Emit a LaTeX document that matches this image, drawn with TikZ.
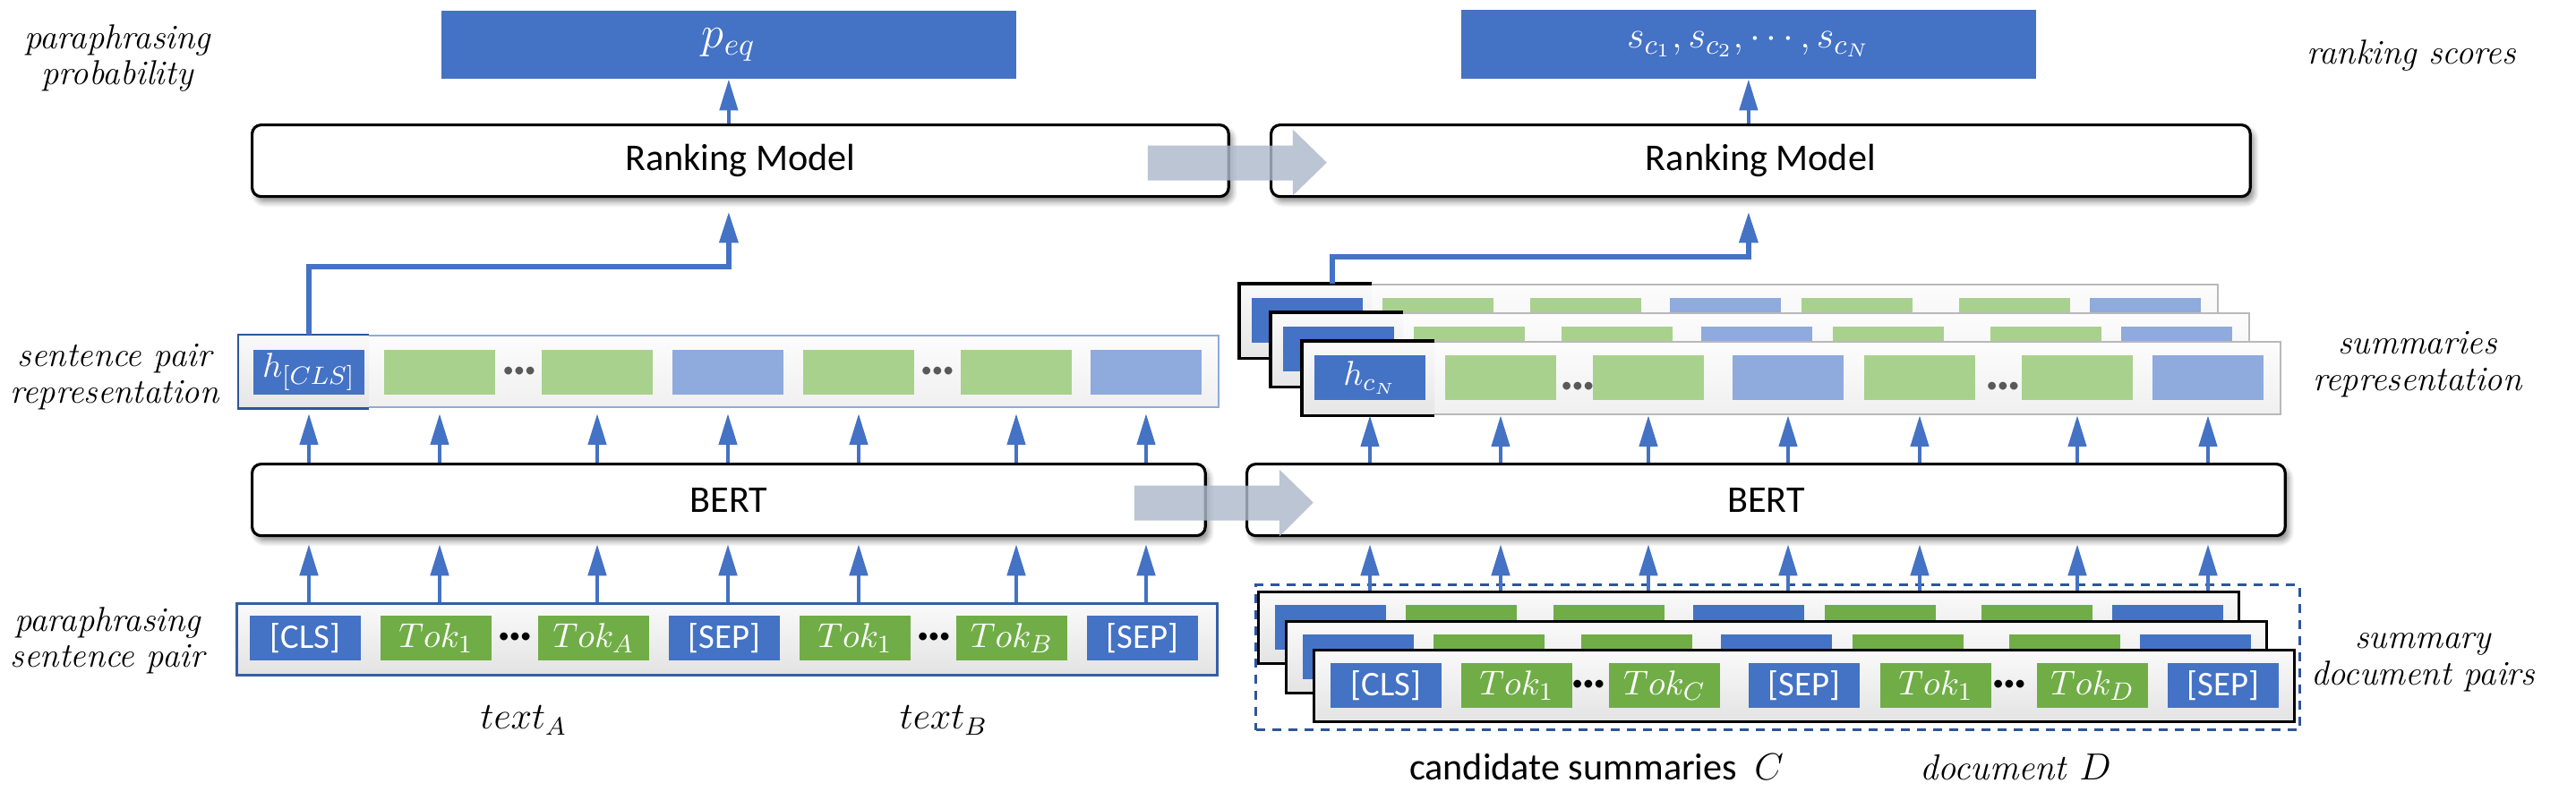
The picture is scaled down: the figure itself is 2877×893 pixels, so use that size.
\documentclass[tikz,border=0pt]{standalone}
\usepackage{fontspec}
\newfontfamily\calibri{Carlito}
\usetikzlibrary{arrows.meta, shadows.blur, calc}
\definecolor{tokblue}{HTML}{4472C4}
\definecolor{tokgreen}{HTML}{70AD47}
\definecolor{repgreen}{HTML}{A9D18E}
\definecolor{repblue}{HTML}{8FAADC}
\definecolor{darkblue}{HTML}{2F5597}
\definecolor{flowgray}{HTML}{ADB9CA}

\begin{document}
\begin{tikzpicture}[x=0.01cm, y=-0.01cm,
    modelbox/.style={draw=black, line width=0.9pt, rounded corners=0.1cm, fill=white, anchor=north west, inner sep=0pt,
      blur shadow={shadow xshift=0.04cm, shadow yshift=-0.06cm, shadow opacity=45, shadow blur steps=6},
      font=\calibri\fontsize{12}{14}\selectfont, minimum height=0.8cm},
    outbox/.style={fill=tokblue, text=white, anchor=north west, inner sep=0pt, font=\fontsize{14}{16}\selectfont},
    seqbox/.style={anchor=north west, inner sep=0pt, minimum height=0.8cm},
    tokcell/.style={minimum width=1.24cm, minimum height=0.5cm, inner sep=0pt, text=white, font=\calibri\fontsize{11}{13}\selectfont},
    celltext/.style={text=white, inner sep=0pt, font=\calibri\fontsize{11}{13}\selectfont},
    tokdots/.style={inner sep=0pt, font=\calibri\fontsize{7}{7}\selectfont},
    uparrow/.style={draw=tokblue, line width=1.3pt, -{Triangle[length=0.35cm, width=0.2cm]}},
    clslink/.style={uparrow, line width=1.8pt, shorten >=0.15cm},
    sidelabel/.style={font=\itshape\fontsize{11}{11.5}\selectfont, align=center, inner sep=0pt},
    flowarrow/.style={fill=flowgray, fill opacity=0.82}
  ]
  \useasboundingbox (0,0) rectangle (2877,893);

  \node[outbox, minimum width=6.42cm, minimum height=0.76cm] (outL) at (492,11) {$p_{eq}$};
  \node[outbox, minimum width=6.42cm, minimum height=0.77cm, font=\fontsize{13}{15}\selectfont] (outR) at (1631,10) {$s_{c_1},s_{c_2},\cdots,s_{c_N}$};

  \node[modelbox, minimum width=10.90cm] (rankL) at (280,138) {Ranking Model};
  \node[modelbox, minimum width=10.93cm] (rankR) at (1418,138) {Ranking Model};
  \node[modelbox, minimum width=10.64cm] (bertL) at (280,517) {BERT};
  \node[modelbox, minimum width=11.59cm] (bertR) at (1391,517) {BERT};

  % sentence pair representation
  \node[seqbox, draw=repblue, line width=0.6pt, top color=gray!2, bottom color=gray!12, minimum width=10.93cm] (repL) at (266,374) {};
  \path[top color=gray!4, bottom color=gray!20] (repL.north west) rectangle ($(repL.south west)+(146,0)$);
  \draw[darkblue, line width=0.8pt] ($(repL.north west)+(146,0)$) -- (repL.north west) -- (repL.south west) -- ($(repL.south west)+(146,0)$);
  \foreach \x/\c/\t [count=\i] in {283/tokblue/{$h_{[CLS]}$},429/repgreen/{},605/repgreen/{},751/repblue/{},897/repgreen/{},1073/repgreen/{},1218/repblue/{}}
    \node[tokcell, fill=\c] (rL\i) at ({\x+62},416) {\t};
  \node[tokdots, text=gray!70!black] at (580,416) {\textbullet\textbullet\textbullet};
  \node[tokdots, text=gray!70!black] at (1047,416) {\textbullet\textbullet\textbullet};

  % paraphrasing sentence pair
  \node[seqbox, draw=darkblue!70!tokblue, line width=0.9pt, top color=gray!4, bottom color=gray!22, minimum width=10.94cm] (inL) at (263,673) {};
  \foreach \x/\c/\t [count=\i] in {279/tokblue/[CLS],425/tokgreen/$Tok_1$,601/tokgreen/$Tok_A$,747/tokblue/[SEP],893/tokgreen/$Tok_1$,1068/tokgreen/$Tok_B$,1214/tokblue/[SEP]}
    \node[tokcell, fill=\c] (iL\i) at ({\x+62},713) {\t};
  \node[tokdots] at (575,713) {\textbullet\textbullet\textbullet};
  \node[tokdots] at (1043,713) {\textbullet\textbullet\textbullet};

  % summaries representation
  \foreach \s/\px/\py in {1/1384/317,2/1419/349,3/1454/381}{
    \node[seqbox, draw=gray!55, line width=0.6pt, top color=gray!2, bottom color=gray!12, minimum width=10.91cm, minimum height=0.81cm] (rs\s) at (\px,\py) {};
    \path[top color=gray!4, bottom color=gray!20] (rs\s.north west) rectangle ($(rs\s.south west)+(148,0)$);
    \draw[line width=0.9pt] ($(rs\s.north west)+(148,0)$) -- (rs\s.north west) -- (rs\s.south west) -- ($(rs\s.south west)+(148,0)$);
    \foreach \x/\c [count=\i] in {14/tokblue,160/repgreen,325/repgreen,481/repblue,628/repgreen,804/repgreen,950/repblue}
      \node[tokcell, fill=\c] (rc\s\i) at ($(rs\s.north west)+({\x+62},41)$) {};
  }
  \node[celltext] at (rc31) {$h_{c_N}$};
  \node[tokdots, text=gray!70!black] at ($(rs3.north west)+(308,52)$) {\textbullet\textbullet\textbullet};
  \node[tokdots, text=gray!70!black] at ($(rs3.north west)+(783,52)$) {\textbullet\textbullet\textbullet};

  % summary document pairs
  \foreach \s/\px/\py in {1/1404/660,2/1435/693,3/1466/725}{
    \node[seqbox, draw=black, line width=0.9pt, top color=gray!4, bottom color=gray!22, minimum width=10.94cm] (is\s) at (\px,\py) {};
    \foreach \x/\c [count=\i] in {20/tokblue,166/tokgreen,331/tokgreen,487/tokblue,634/tokgreen,809/tokgreen,955/tokblue}
      \node[tokcell, fill=\c] (ic\s\i) at ($(is\s.north west)+({\x+62},41)$) {};
  }
  \foreach \i/\t in {1/[CLS],2/$Tok_1$,3/$Tok_C$,4/[SEP],5/$Tok_1$,6/$Tok_D$,7/[SEP]}
    \node[celltext] at (ic3\i) {\t};
  \node[tokdots] at ($(is3.north west)+(308,41)$) {\textbullet\textbullet\textbullet};
  \node[tokdots] at ($(is3.north west)+(778,41)$) {\textbullet\textbullet\textbullet};
  \node[draw=darkblue, line width=0.9pt, dash pattern=on 0.1cm off 0.08cm, anchor=north west, inner sep=0pt,
    minimum width=11.65cm, minimum height=1.62cm] (pairs) at (1401,652) {};

  \foreach \i in {1,...,7}{
    \draw[uparrow, shorten >=0.08cm] (rL\i |- inL.north) -- (rL\i |- bertL.south);
    \draw[uparrow, shorten >=0.06cm] (rL\i |- bertL.north) -- (rL\i |- repL.south);
    \draw[uparrow, shorten >=0.08cm] (rc3\i |- is1.north) -- (rc3\i |- bertR.south);
    \draw[uparrow] (rc3\i |- bertR.north) -- (rc3\i |- rs3.south);
  }
  \draw[uparrow] (outL.south |- rankL.north) -- (outL.south);
  \draw[uparrow] (outR.south |- rankR.north) -- (outR.south);
  \draw[clslink] (rL1 |- repL.north) -- ++(0,-76) -| (outL.south |- rankL.south);
  \draw[clslink] ($(rs1.north west)+(104,0)$) -- ++(0,-30) -| (outR.south |- rankR.south);

  \fill[flowarrow] ($(rankL.east)+(-92,-17)$) -- ++(162,0) -- ++(0,-18) -- ++(38,37) -- ++(-38,37) -- ++(0,-17) -- ++(-162,0) -- cycle;
  \fill[flowarrow] ($(bertL.east)+(-81,-16)$) -- ++(162,0) -- ++(0,-18) -- ++(38,37) -- ++(-38,38) -- ++(0,-18) -- ++(-162,0) -- cycle;

  \node[sidelabel] at (131,65) {paraphrasing\\probability};
  \node[sidelabel] at (128,421) {sentence pair\\representation};
  \node[sidelabel] at (120,716) {paraphrasing\\sentence pair};
  \node[sidelabel] at (2693,62) {ranking scores};
  \node[sidelabel] at (2700,407) {summaries\\representation};
  \node[sidelabel] at (2706,740) {summary\\document pairs};
  \node[font=\fontsize{12}{14}\selectfont] (textA) at (585,805) {$text_A$};
  \node[font=\fontsize{12}{14}\selectfont] (textB) at (1054,805) {$text_B$};
  \node[font=\calibri\fontsize{12}{14}\selectfont] (candC) at (1783,857) {candidate summaries \ $C$};
  \node[font=\itshape\fontsize{11.5}{14}\selectfont] (docD) at (2251,857) {document $D$};
\end{tikzpicture}
\end{document}
